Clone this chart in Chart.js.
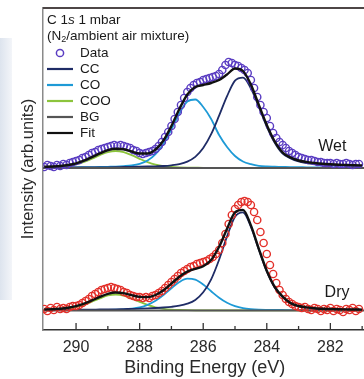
<!DOCTYPE html>
<html>
<head>
<meta charset="utf-8">
<script src="https://cdn.jsdelivr.net/npm/chart.js@4.4.1/dist/chart.umd.min.js"></script>
<style>
  html, body { margin: 0; padding: 0; background: #fff; overflow: hidden; }
  #wrap { position: relative; width: 364px; height: 379px; overflow: hidden; }
  #strip { position: absolute; left: 0; top: 38px; width: 12px; height: 262px; background: linear-gradient(to right, #dde4ee, #f3f5f9); }
  canvas { position: absolute; left: 0; top: 0; }
</style>
</head>
<body>
<div id="wrap">
  <div id="strip"></div>
  <canvas id="xps" width="372" height="379"></canvas>
</div>
<script>
// binding energy grid for the fitted curves (eV)
const fitEnergy = [291, 290.75, 290.5, 290.25, 290, 289.75, 289.5, 289.25, 289, 288.75, 288.5, 288.25, 288, 287.75, 287.5, 287.25, 287, 286.75, 286.5, 286.25, 286, 285.75, 285.5, 285.25, 285, 284.75, 284.5, 284.25, 284, 283.75, 283.5, 283.25, 283, 282.75, 282.5, 282.25, 282, 281.75, 281.5, 281.25, 281];

// measured points (eV)
const dataEnergy = [291.0, 290.9, 290.8, 290.7, 290.6, 290.5, 290.4, 290.3, 290.2, 290.1,
  290.0, 289.9, 289.8, 289.7, 289.6, 289.5, 289.4, 289.3, 289.2, 289.1,
  289.0, 288.9, 288.8, 288.7, 288.6, 288.5, 288.4, 288.3, 288.2, 288.1,
  288.0, 287.9, 287.8, 287.7, 287.6, 287.5, 287.4, 287.3, 287.2, 287.1,
  287.0, 286.9, 286.8, 286.7, 286.6, 286.5, 286.4, 286.3, 286.2, 286.1,
  286.0, 285.9, 285.8, 285.7, 285.6, 285.5, 285.4, 285.3, 285.2, 285.1,
  285.0, 284.9, 284.8, 284.7, 284.6, 284.5, 284.4, 284.3, 284.2, 284.1,
  284.0, 283.9, 283.8, 283.7, 283.6, 283.5, 283.4, 283.3, 283.2, 283.1,
  283.0, 282.9, 282.8, 282.7, 282.6, 282.5, 282.4, 282.3, 282.2, 282.1,
  282.0, 281.9, 281.8, 281.7, 281.6, 281.5, 281.4, 281.3, 281.2, 281.1];

// Wet (upper spectrum, offset)
const wetData = [163, 165, 164, 163, 165, 164, 166, 165, 167, 168,
  169, 170, 172, 173, 175, 177, 178, 180, 181, 182,
  183, 184, 185, 184, 185, 184, 183, 182, 180, 179,
  177, 176, 177, 178, 179, 181, 184, 188, 193, 198,
  204, 211, 218, 225, 232, 238, 242, 245, 247, 248,
  250, 251, 252, 253, 254, 256, 260, 265, 268, 267,
  265, 264, 262, 260, 257, 250, 242, 233, 225, 218,
  212, 204, 197, 192, 188, 185, 182, 179, 177, 175,
  173, 172, 171, 170, 170, 169, 168, 168, 167, 167,
  167, 166, 167, 166, 166, 167, 166, 165, 166, 166];
const wetCC = [162.4, 162.4, 162.4, 162.5, 162.5, 162.6, 162.6, 162.7, 162.7, 162.8, 163, 163.1, 163.3, 163.5, 163.7, 164, 164.7, 165.9, 168.4, 173.1, 181.9, 195.8, 214.3, 233.9, 249.3, 252.4, 241.7, 223.1, 203.4, 187.2, 176.3, 171.5, 168.5, 167, 166, 165.4, 165, 164.7, 164.5, 164.3, 164.2];
const wetCO = [162.5, 162.6, 162.6, 162.7, 162.7, 162.8, 162.9, 163, 163.2, 163.4, 163.9, 164.6, 166.2, 169.4, 175.8, 186.1, 200.6, 216.5, 228.5, 230.5, 223, 211, 195, 183, 174, 168.5, 165.8, 164.1, 163.5, 163.3, 163.1, 162.9, 162.8, 162.7, 162.6, 162.6, 162.5, 162.5, 162.5, 162.4, 162.4];
const wetCOO = [162.4, 162.6, 163, 163.9, 165.5, 168, 171.3, 174.9, 177.9, 179, 177.8, 174.8, 171.2, 167.9, 165.4, 163.8, 163, 162.6, 162.4, 162.3, 162.2, 162.2, 162.1, 162.1, 162.1, 162.1, 162.1, 162.1, 162.1, 162.1, 162.1, 162.1, 162.1, 162.1, 162.1, 162.1, 162.1, 162.1, 162.1, 162.1, 162.1];
const wetFit = [163.2, 163.5, 164, 165, 166.7, 169.4, 172.8, 176.6, 179.8, 181.2, 180.7, 178.5, 176.5, 176.5, 180.5, 189.5, 204, 221, 235.5, 243, 245, 247, 250, 255.5, 261.5, 259, 245.5, 225, 205, 188.5, 177.5, 172.5, 169.5, 168, 167, 166.2, 165.7, 165.3, 165, 164.7, 164.6];

// Dry (lower spectrum)
const dryData = [21, 19, 22, 20, 23, 21, 22, 21, 23, 24,
  24, 25, 27, 29, 31, 34, 36, 38, 40, 41,
  42, 43, 42, 41, 40, 38, 37, 35, 34, 33,
  33, 32, 33, 32, 34, 35, 37, 39, 42, 45,
  48, 51, 54, 57, 59, 61, 63, 64, 66, 67,
  68, 69, 71, 73, 76, 80, 87, 96, 106, 115,
  121, 125, 128, 129, 128, 125, 118, 110, 98, 87,
  76, 65, 56, 47, 40, 35, 31, 28, 26, 24,
  23, 22, 23, 21, 20, 22, 21, 19, 21, 20,
  22, 19, 21, 20, 18, 21, 20, 22, 19, 21];
const dryCC = [20, 20.1, 20.1, 20.2, 20.2, 20.3, 20.4, 20.5, 20.6, 20.7, 20.9, 21.1, 21.3, 21.6, 22, 22.5, 23.2, 24.3, 26.3, 30.1, 37.7, 50.7, 70.3, 93.6, 113.3, 117.7, 103.2, 80.3, 58.5, 42.5, 32.8, 26.5, 23.7, 22.3, 21.5, 21, 20.7, 20.5, 20.4, 20.3, 20.2];
const dryCO = [19.8, 19.8, 19.8, 19.8, 19.9, 19.9, 20, 20, 20.1, 20.3, 20.6, 21.3, 22.6, 25.2, 29.3, 35, 41.8, 48, 51.3, 50.3, 45.4, 38.7, 32.3, 27.2, 23.9, 21.9, 20.9, 20.4, 20.2, 20.1, 20, 19.9, 19.9, 19.8, 19.8, 19.8, 19.8, 19.7, 19.7, 19.7, 19.7];
const dryCOO = [19.8, 20, 20.4, 21.2, 22.8, 25.2, 28.3, 31.6, 34.5, 35.5, 34.4, 31.5, 28.2, 25.1, 22.7, 21.2, 20.4, 20, 19.8, 19.7, 19.7, 19.6, 19.6, 19.6, 19.6, 19.6, 19.6, 19.6, 19.6, 19.6, 19.6, 19.6, 19.6, 19.6, 19.6, 19.6, 19.6, 19.6, 19.6, 19.6, 19.6];
const dryFit = [20.6, 20.8, 21.3, 22.2, 23.8, 26.4, 29.6, 33.1, 36.2, 37.5, 36.9, 34.8, 33.1, 32.9, 35, 39.7, 46.4, 53.3, 58.4, 61.1, 63.8, 70, 83.2, 101.3, 117.7, 120.1, 104.6, 81.2, 59.2, 43, 33.3, 26.9, 24, 22.6, 21.8, 21.2, 21, 20.7, 20.6, 20.5, 20.4];

// linear backgrounds
const bgEnergy = [291.2, 280.7];
const wetBG = [162, 162];
const dryBG = [19.5, 19.5];

const majorTicks = [290, 288, 286, 284, 282];
const minorTicks = [289, 287, 285, 283, 281];
const legendLabels = ["Data", "CC", "CO", "COO", "BG", "Fit"];

const FONT = "'Liberation Sans', Arial, Helvetica, sans-serif";
const COLORS = { wet: "#5a3dc2", dry: "#e3302a", CC: "#1f2c66", CO: "#1e9ad6", COO: "#8cc43c", BG: "#555555", Fit: "#111111" };

const pts = (xs, ys) => xs.map((e, i) => ({ x: e, y: ys[i] }));

const curve = (label, ys, color, width) => ({
  label,
  data: pts(fitEnergy, ys),
  borderColor: color,
  borderWidth: width,
  pointRadius: 0,
  fill: false,
  cubicInterpolationMode: "monotone"
});

const scatter = (label, ys, color) => ({
  label,
  data: pts(dataEnergy, ys),
  showLine: false,
  borderColor: color,
  backgroundColor: "rgba(0,0,0,0)",
  pointRadius: 3.6,
  pointBorderWidth: 1.4
});

const bgLine = (label, ys) => ({
  label,
  data: pts(bgEnergy, ys),
  borderColor: COLORS.BG,
  borderWidth: 2.2,
  pointRadius: 0
});

const frame = {
  id: "frame",
  afterDatasetsDraw(chart) {
    const { ctx, chartArea: a, scales: { x, y } } = chart;
    ctx.save();

    // top border
    ctx.strokeStyle = "#4d4646";
    ctx.lineWidth = 2;
    ctx.beginPath();
    ctx.moveTo(a.left, a.top);
    ctx.lineTo(a.right, a.top);
    ctx.stroke();

    // inward tick marks
    ctx.strokeStyle = "#333";
    ctx.lineWidth = 1.3;
    const tick = (v, len) => {
      const px = x.getPixelForValue(v);
      ctx.beginPath();
      ctx.moveTo(px, a.bottom);
      ctx.lineTo(px, a.bottom - len);
      ctx.stroke();
    };
    majorTicks.forEach(v => tick(v, 7));
    minorTicks.forEach(v => tick(v, 4));

    // header text
    const lx = a.left + 4;
    ctx.fillStyle = "#1a1a1a";
    ctx.textBaseline = "middle";
    ctx.textAlign = "left";
    const f = (s, style) => (style || "") + " " + s + "px " + FONT;
    let cx = lx;
    const put = (t, font) => {
      ctx.font = font;
      ctx.fillText(t, cx, 20);
      cx += ctx.measureText(t).width;
    };
    put("C 1", f(13.5));
    put("s", f(13.5, "italic"));
    put(" 1 mbar", f(13.5));
    cx = lx;
    const y2 = 36;
    ctx.font = f(13.5);
    ctx.fillText("(N", cx, y2);
    cx += ctx.measureText("(N").width;
    ctx.font = f(9);
    ctx.fillText("2", cx, y2 + 4);
    cx += ctx.measureText("2").width;
    ctx.font = f(13.5);
    ctx.fillText("/ambient air mixture)", cx, y2);

    // legend rows
    const rowColors = [COLORS.wet, COLORS.CC, COLORS.CO, COLORS.COO, COLORS.BG, COLORS.Fit];
    legendLabels.forEach((lab, i) => {
      const ry = 53 + i * 16;
      ctx.strokeStyle = rowColors[i];
      if (i === 0) {
        ctx.lineWidth = 1.5;
        ctx.beginPath();
        ctx.arc(lx + 13, ry, 3.6, 0, Math.PI * 2);
        ctx.stroke();
      } else {
        ctx.lineWidth = 2.2;
        ctx.beginPath();
        ctx.moveTo(lx, ry);
        ctx.lineTo(lx + 26, ry);
        ctx.stroke();
      }
      ctx.fillStyle = "#1a1a1a";
      ctx.font = f(13.5);
      ctx.fillText(lab, lx + 33, ry);
    });

    // sample labels
    ctx.textAlign = "center";
    ctx.font = f(16);
    ctx.fillText("Wet", x.getPixelForValue(281.94), y.getPixelForValue(183));
    ctx.fillText("Dry", x.getPixelForValue(281.79), y.getPixelForValue(37));
    ctx.restore();
  }
};

new Chart(document.getElementById("xps"), {
  type: "line",
  data: {
    datasets: [
      curve("Fit wet", wetFit, COLORS.Fit, 2.4),
      curve("Fit dry", dryFit, COLORS.Fit, 2.4),
      scatter("Data wet", wetData, COLORS.wet),
      scatter("Data dry", dryData, COLORS.dry),
      bgLine("BG wet", wetBG),
      bgLine("BG dry", dryBG),
      curve("CC wet", wetCC, COLORS.CC, 1.8),
      curve("CC dry", dryCC, COLORS.CC, 1.8),
      curve("CO wet", wetCO, COLORS.CO, 1.8),
      curve("CO dry", dryCO, COLORS.CO, 1.8),
      curve("COO wet", wetCOO, COLORS.COO, 1.8),
      curve("COO dry", dryCOO, COLORS.COO, 1.8)
    ]
  },
  options: {
    responsive: false,
    animation: false,
    layout: { padding: { top: 8, right: 0, left: 0, bottom: 0 } },
    plugins: { legend: { display: false }, tooltip: { enabled: false } },
    scales: {
      x: {
        type: "linear",
        reverse: true,
        min: 280.86,
        max: 291.04,
        afterFit: (s) => { s.height = 49; },
        grid: { display: false },
        border: { color: "#333", width: 1.5 },
        ticks: { stepSize: 2, includeBounds: false, padding: 0, color: "#2a2a2a", font: { family: FONT, size: 16 } },
        title: { display: true, text: "Binding Energy (eV)", color: "#2a2a2a", font: { family: FONT, size: 18 }, padding: { top: 0, bottom: 0 } }
      },
      y: {
        min: 0,
        max: 322,
        afterFit: (s) => { s.width = 43; },
        grid: { display: false },
        border: { color: "#8a8a8a", width: 1.5 },
        ticks: { display: false },
        title: { display: true, text: "Intensity (arb.units)", color: "#2a2a2a", font: { family: FONT, size: 16.5 }, padding: { top: 19, bottom: 0 } }
      }
    }
  },
  plugins: [frame]
});
</script>
</body>
</html>
